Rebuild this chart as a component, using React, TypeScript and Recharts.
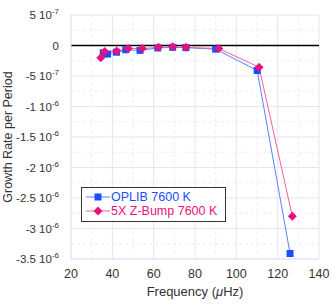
import {
  LineChart,
  Line,
  XAxis,
  YAxis,
  CartesianGrid,
  ReferenceLine,
} from 'recharts';

const oplib = [
  { f: 35.6, g: -1.2e-7 },
  { f: 37.7, g: -1.4e-7 },
  { f: 42.0, g: -1.1e-7 },
  { f: 46.5, g: -0.7e-7 },
  { f: 53.4, g: -0.8e-7 },
  { f: 62.0, g: -0.4e-7 },
  { f: 69.2, g: -0.3e-7 },
  { f: 75.6, g: -0.35e-7 },
  { f: 90.0, g: -0.6e-7 },
  { f: 110.1, g: -4.1e-7 },
  { f: 126.0, g: -3.41e-6 },
];

const zbump = [
  { f: 34.4, g: -2.0e-7 },
  { f: 36.3, g: -1.0e-7 },
  { f: 42.1, g: -0.9e-7 },
  { f: 47.7, g: -0.5e-7 },
  { f: 54.5, g: -0.5e-7 },
  { f: 62.3, g: -0.3e-7 },
  { f: 69.2, g: -0.2e-7 },
  { f: 75.6, g: -0.3e-7 },
  { f: 91.5, g: -0.5e-7 },
  { f: 111.0, g: -3.55e-7 },
  { f: 127.1, g: -2.8e-6 },
];

const xTicks = [20, 40, 60, 80, 100, 120, 140];
const xMinor = [30, 50, 70, 90, 110, 130];
const yTicks = [5e-7, 0, -5e-7, -1e-6, -1.5e-6, -2e-6, -2.5e-6, -3e-6, -3.5e-6];
const yLabels: [string, string][] = [
  ['5 10', '-7'],
  ['0', ''],
  ['-5 10', '-7'],
  ['-1 10', '-6'],
  ['-1.5 10', '-6'],
  ['-2 10', '-6'],
  ['-2.5 10', '-6'],
  ['-3 10', '-6'],
  ['-3.5 10', '-6'],
];
const yMinor = [2.5e-7, -2.5e-7, -7.5e-7, -1.25e-6, -1.75e-6, -2.25e-6, -2.75e-6, -3.25e-6];

const BLUE = '#1a4dff';
const BLUE_LINE = '#5f80ff';
const PINK = '#e8127c';
const PINK_LINE = '#f0609e';
const FONT = 'Liberation Sans, Arial, sans-serif';

function YTick(props: any) {
  const { x, y, payload } = props;
  const idx = yTicks.indexOf(payload.value);
  const [m, e] = yLabels[idx] ?? [String(payload.value), ''];
  return (
    <text x={x - 4} y={y + 4} textAnchor="end" fontSize={11.5} fill="#333" fontFamily={FONT}>
      <tspan>{m}</tspan>
      {e && (
        <tspan dy={-5} fontSize={8}>
          {e}
        </tspan>
      )}
    </text>
  );
}

function Square(props: any) {
  const { cx, cy } = props;
  if (cx == null || cy == null) return null;
  return <rect x={cx - 3.5} y={cy - 3.5} width={7} height={7} fill={BLUE} />;
}

function Diamond(props: any) {
  const { cx, cy } = props;
  if (cx == null || cy == null) return null;
  return <path d={`M${cx},${cy - 4.5}L${cx + 4.5},${cy}L${cx},${cy + 4.5}L${cx - 4.5},${cy}Z`} fill={PINK} />;
}

function LegendBox() {
  return (
    <div
      style={{
        position: 'absolute',
        left: 81,
        top: 187,
        border: '1px solid #333',
        background: '#fff',
        padding: '2px 8px 3px 4px',
        fontFamily: FONT,
        fontSize: 12.5,
        lineHeight: '14px',
        whiteSpace: 'nowrap',
      }}
    >
      <div style={{ display: 'flex', alignItems: 'center', color: BLUE }}>
        <svg width={24} height={12}>
          <line x1={0} y1={6} x2={24} y2={6} stroke={BLUE_LINE} />
          <rect x={8.5} y={2.5} width={7} height={7} fill={BLUE} />
        </svg>
        <span style={{ marginLeft: 1 }}>OPLIB 7600 K</span>
      </div>
      <div style={{ display: 'flex', alignItems: 'center', color: PINK }}>
        <svg width={24} height={12}>
          <line x1={0} y1={6} x2={24} y2={6} stroke={PINK_LINE} />
          <path d="M12,1.5L16.5,6L12,10.5L7.5,6Z" fill={PINK} />
        </svg>
        <span style={{ marginLeft: 1 }}>5X Z-Bump 7600 K</span>
      </div>
    </div>
  );
}

export default function App() {
  return (
    <div style={{ position: 'absolute', left: 0, top: 0, width: 332, height: 304, background: '#fff' }}>
      <LineChart width={332} height={304} margin={{ top: 15, right: 13, left: 0, bottom: 0 }}>
        <CartesianGrid stroke="#e4e4f6" horizontalValues={yTicks} verticalValues={xTicks} />
        {xMinor.map((v) => (
          <ReferenceLine key={`xm${v}`} x={v} stroke="#ececf8" strokeDasharray="3 3" />
        ))}
        {yMinor.map((v) => (
          <ReferenceLine key={`ym${v}`} y={v} stroke="#ececf8" strokeDasharray="3 3" />
        ))}
        <XAxis
          type="number"
          dataKey="f"
          domain={[20, 140]}
          ticks={xTicks}
          height={45}
          axisLine={{ stroke: '#e4e4f6' }}
          tickLine={false}
          tick={{ fontSize: 12.5, fill: '#333', fontFamily: FONT }}
          tickMargin={4}
          allowDataOverflow
        />
        <YAxis
          type="number"
          domain={[-3.5e-6, 5e-7]}
          ticks={yTicks}
          width={71}
          axisLine={{ stroke: '#e4e4f6' }}
          tickLine={false}
          tick={<YTick />}
          interval={0}
          allowDataOverflow
        />
        <ReferenceLine y={0} stroke="#000" strokeWidth={1.3} />
        <Line
          data={oplib}
          dataKey="g"
          stroke={BLUE_LINE}
          strokeWidth={1}
          dot={<Square />}
          activeDot={false}
          isAnimationActive={false}
        />
        <Line
          data={zbump}
          dataKey="g"
          stroke={PINK_LINE}
          strokeWidth={1}
          dot={<Diamond />}
          activeDot={false}
          isAnimationActive={false}
        />
        <text x={8} y={137} transform="rotate(-90 8 137)" textAnchor="middle" dominantBaseline="central" fontSize={12.5} fill="#333" fontFamily={FONT}>
          Growth Rate per Period
        </text>
        <text x={195} y={296} textAnchor="middle" fontSize={13} fill="#333" fontFamily={FONT}>
          Frequency (<tspan fontStyle="italic">μ</tspan>Hz)
        </text>
      </LineChart>
      <LegendBox />
    </div>
  );
}
